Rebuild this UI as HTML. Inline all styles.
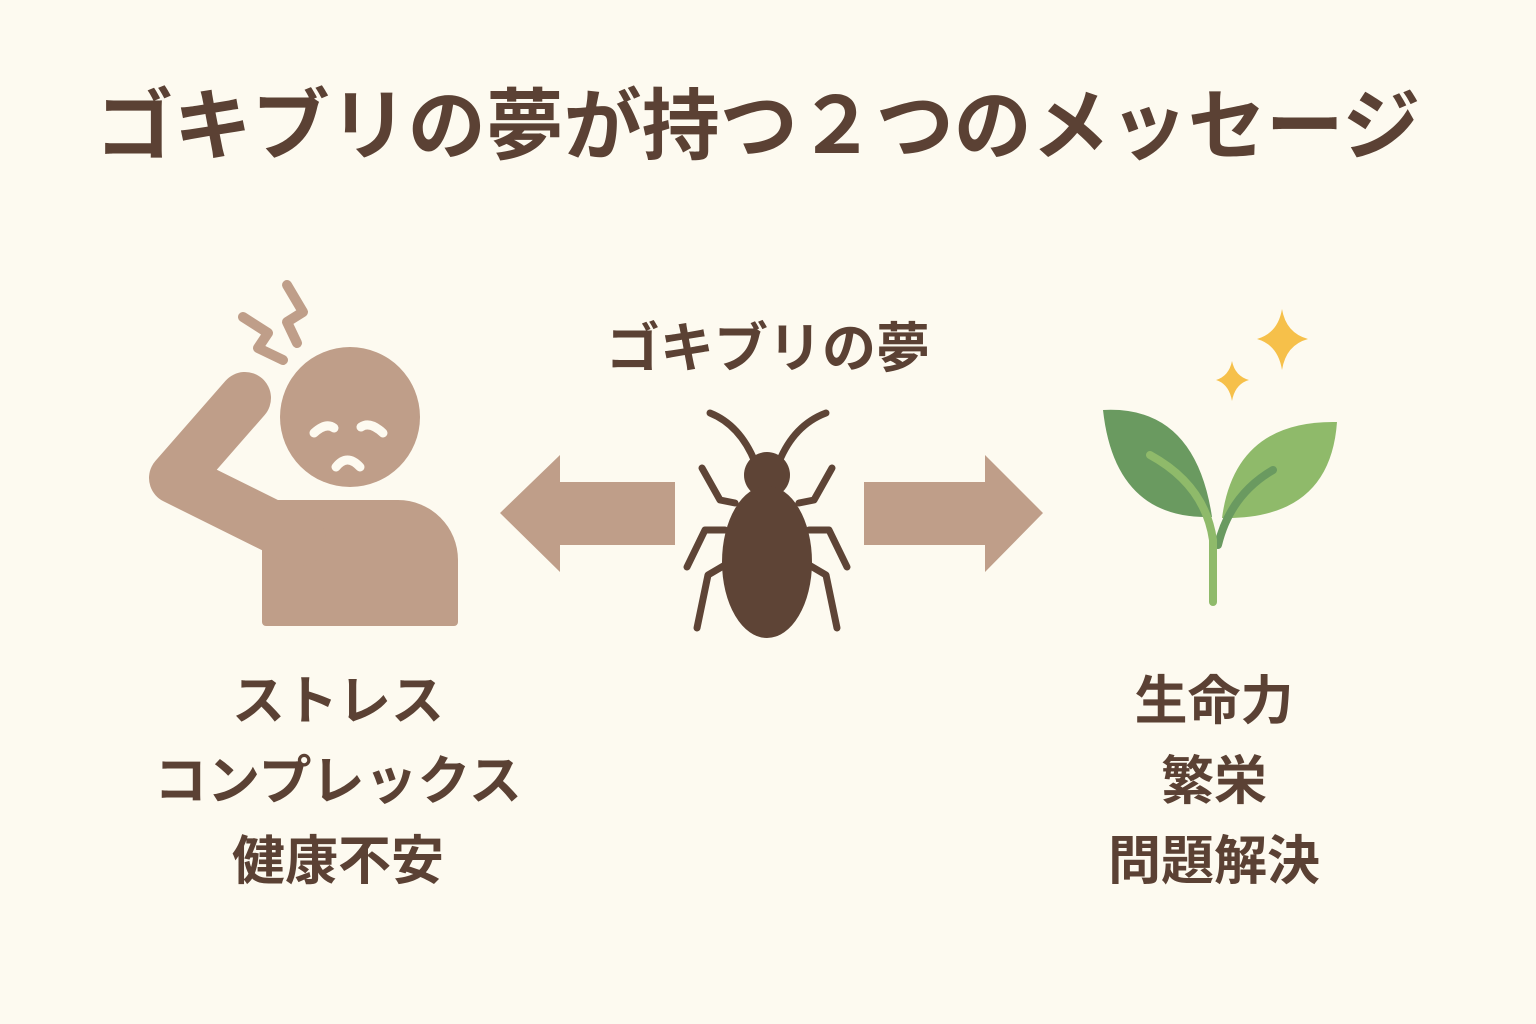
<!DOCTYPE html>
<html><head><meta charset="utf-8"><style>
html,body{margin:0;padding:0;background:#fdfaf0;}
.w{position:relative;width:1536px;height:1024px;overflow:hidden;background:#fdfaf0;font-family:"Liberation Sans","Noto Sans CJK JP",sans-serif;color:#5b4134;font-weight:bold;}
.t{position:absolute;white-space:nowrap;text-align:center;transform:translateX(-50%);line-height:1;}
</style></head><body><div class="w">
<div class="t" style="left:758px;top:87px;font-size:78px;">ゴキブリの夢が持つ２つのメッセージ</div>
<div class="t" style="left:768px;top:322px;font-size:54px;">ゴキブリの夢</div>
<div class="t" style="left:338px;top:675px;font-size:53px;">ストレス</div>
<div class="t" style="left:338px;top:755px;font-size:53px;">コンプレックス</div>
<div class="t" style="left:338px;top:835px;font-size:53px;">健康不安</div>
<div class="t" style="left:1214px;top:675px;font-size:53px;">生命力</div>
<div class="t" style="left:1214px;top:755px;font-size:53px;">繁栄</div>
<div class="t" style="left:1214px;top:835px;font-size:53px;">問題解決</div>
<svg width="1536" height="1024" style="position:absolute;left:0;top:0">
<g fill="#bf9e89" stroke="#bf9e89">
<path d="M262 500 H398 A60 60 0 0 1 458 560 V622 a4 4 0 0 1 -4 4 H266 a4 4 0 0 1 -4 -4 Z" stroke="none"/>
<polyline points="300,540 175,478 245,398" fill="none" stroke-width="52" stroke-linejoin="round" stroke-linecap="round"/>
<circle cx="350" cy="417" r="70" stroke="none"/>
<polyline points="243,317 268,333 258,348 283,360" fill="none" stroke-width="10" stroke-linecap="round" stroke-linejoin="round"/>
<polyline points="287,285 303,312 287,322 297,343" fill="none" stroke-width="10" stroke-linecap="round" stroke-linejoin="round"/>
<path d="M560 455 L500 513 L560 572 V545 H675 V482 H560 Z" stroke="none"/>
<path d="M985 455 L1043 513 L985 572 V545 H864 V482 H985 Z" stroke="none"/>
</g>
<g fill="none" stroke="#fdfaf0" stroke-width="9" stroke-linecap="round">
<path d="M314 433 Q326 422 334 428"/><path d="M361 427 Q370 421 383 433"/>
<path d="M336 467 Q347 453 360 467"/>
</g>
<g stroke="#5e4436" stroke-width="7" fill="none" stroke-linecap="round" stroke-linejoin="round">
<path d="M755 462 Q740 425 710 413"/><path d="M779 462 Q794 425 826 413"/>
<polyline points="702,468 720,500 735,503"/><polyline points="832,468 814,500 799,503"/>
<polyline points="687,567 705,530 725,530"/><polyline points="847,567 829,530 809,530"/>
<polyline points="697,628 708,575 725,565"/><polyline points="837,628 826,575 809,565"/>
</g>
<g fill="#5e4436"><circle cx="767" cy="475" r="23"/><ellipse cx="767" cy="562" rx="45" ry="76"/></g>
<path d="M1103 410 Q1195 405 1212 517 Q1115 520 1103 410 Z" fill="#6a9a60"/>
<path d="M1337 422 Q1235 420 1222 518 Q1330 520 1337 422 Z" fill="#8fba6a"/>
<g fill="none" stroke-linecap="round" stroke-width="8">
<path d="M1273 470 Q1230 495 1218 545" stroke="#6a9a60"/>
<path d="M1150 455 Q1205 485 1213 540 V602" stroke="#8fba6a"/>
</g>
<g fill="#f6c04a">
<path d="M1282 309 Q1286 333 1308 339 Q1286 345 1282 370 Q1278 345 1257 339 Q1278 333 1282 309 Z"/>
<path d="M1232 361 Q1235 376 1249 380 Q1235 384 1232 401 Q1229 384 1216 380 Q1229 376 1232 361 Z"/>
</g>
</svg>
</div></body></html>
